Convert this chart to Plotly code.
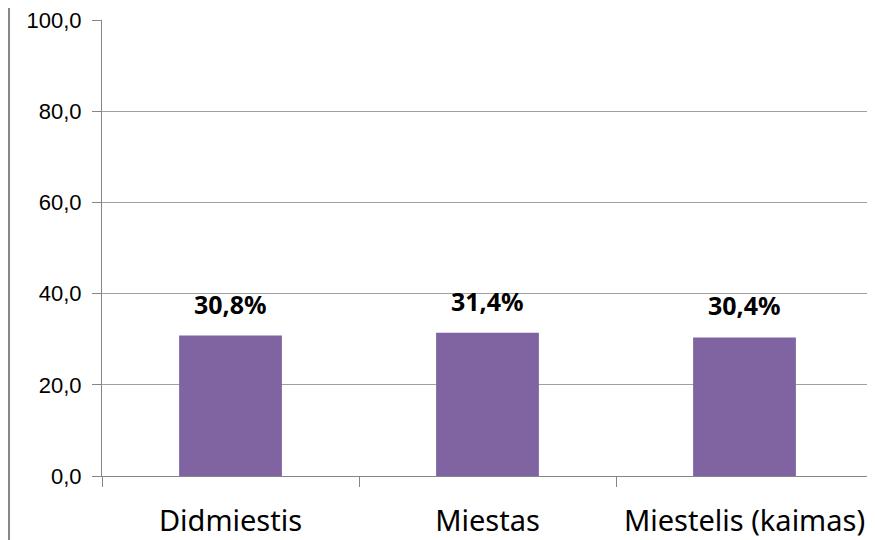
import plotly.graph_objects as go

categories = ["Didmiestis", "Miestas", "Miestelis (kaimas)"]
values = [30.8, 31.4, 30.4]
value_labels = ["30,8%", "31,4%", "30,4%"]
y_ticks = [0, 20, 40, 60, 80, 100]

fig = go.Figure()
fig.add_trace(go.Bar(
    x=categories, y=values,
    marker=dict(color="#8064A2", line=dict(width=0)),
    width=0.4,
    hoverinfo="skip",
))

for c, v, t in zip(categories, values, value_labels):
    fig.add_annotation(x=c, y=v, text="<b>" + t + "</b>", showarrow=False,
                       yanchor="bottom", yshift=13,
                       font=dict(family="Noto Sans", size=25, color="#000000"))

fig.add_shape(type="line", xref="paper", yref="paper",
              x0=-0.1206, x1=-0.1206, y0=-0.2, y1=1.1,
              line=dict(color="#868686", width=2))

fig.update_layout(
    width=867, height=532,
    margin=dict(l=94, r=2, t=12, b=64, autoexpand=False),
    paper_bgcolor="white", plot_bgcolor="white",
    separators=",.",
    showlegend=False,
    bargap=0.6,
    xaxis=dict(
        showline=True, linecolor="#868686", linewidth=1,
        ticks="outside", tickson="boundaries", ticklen=10, tickcolor="#868686",
        tickfont=dict(family="Noto Sans", size=29, color="#000000"),
        ticklabelstandoff=19, tickangle=0, automargin=False,
        showgrid=False,
    ),
    yaxis=dict(
        range=[0, 100], tickvals=y_ticks, tickformat=".1f",
        showline=True, linecolor="#868686", linewidth=1,
        ticks="outside", ticklen=9, tickcolor="#868686",
        ticklabelstandoff=6, automargin=False, ticklabeloverflow="allow",
        showgrid=True, gridcolor="#A0A0A0", gridwidth=1,
        zeroline=False,
        tickfont=dict(family="Liberation Sans", size=22, color="#000000"),
    ),
)

fig.write_html("out.html")
